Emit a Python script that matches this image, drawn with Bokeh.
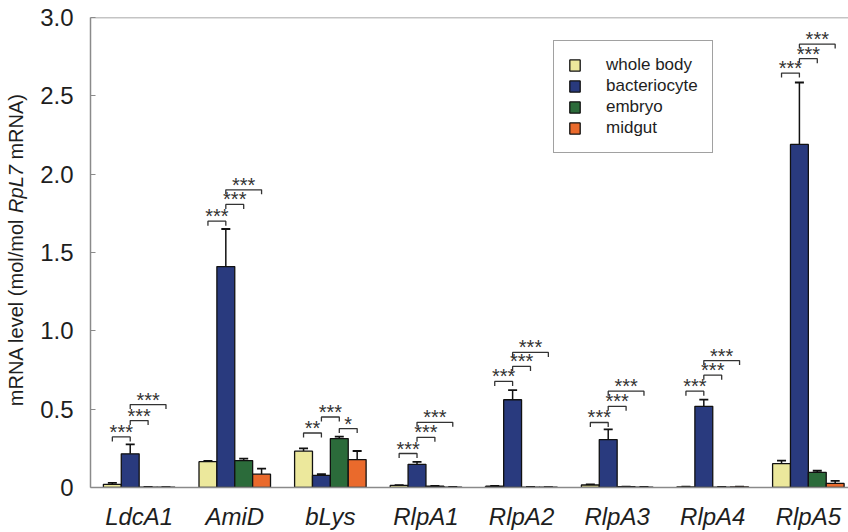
import numpy as np
from bokeh.plotting import figure
from bokeh.layouts import row
from bokeh.models import (ColumnDataSource, FixedTicker, Whisker, TeeHead,
                          Legend, LegendItem, Range1d, Span)
from bokeh.core.properties import value
from bokeh.embed import file_html
from bokeh.resources import INLINE

# ---------------- data ----------------
genes = ["LdcA1", "AmiD", "bLys", "RlpA1", "RlpA2", "RlpA3", "RlpA4", "RlpA5"]
tissues = ["whole body", "bacteriocyte", "embryo", "midgut"]

whole_body = [0.020, 0.165, 0.232, 0.013, 0.008, 0.016, 0.004, 0.152]
whole_body_err = [0.010, 0.004, 0.018, 0.002, 0.002, 0.003, 0.001, 0.020]
bacteriocyte = [0.215, 1.410, 0.077, 0.148, 0.560, 0.306, 0.518, 2.190]
bacteriocyte_err = [0.060, 0.240, 0.008, 0.015, 0.062, 0.065, 0.043, 0.395]
embryo = [0.003, 0.172, 0.312, 0.008, 0.003, 0.005, 0.003, 0.097]
embryo_err = [0.001, 0.012, 0.013, 0.002, 0.001, 0.001, 0.001, 0.010]
midgut = [0.002, 0.085, 0.178, 0.003, 0.002, 0.003, 0.004, 0.026]
midgut_err = [0.001, 0.035, 0.055, 0.001, 0.001, 0.001, 0.001, 0.016]

y_ticks = [0, 0.5, 1.0, 1.5, 2.0, 2.5, 3.0]
y_tick_labels = ["0", "0.5", "1.0", "1.5", "2.0", "2.5", "3.0"]

# significance brackets: gene index, tissue a, tissue b, bracket height, label
sig_gene = [0, 0, 0, 1, 1, 1, 2, 2, 2, 3, 3, 3, 4, 4, 4, 5, 5, 5, 6, 6, 6, 7, 7, 7]
sig_a = [0, 1, 1, 0, 1, 1, 0, 1, 2, 0, 1, 1, 0, 1, 1, 0, 1, 1, 0, 1, 1, 0, 1, 1]
sig_b = [1, 2, 3, 1, 2, 3, 1, 2, 3, 1, 2, 3, 1, 2, 3, 1, 2, 3, 1, 2, 3, 1, 2, 3]
sig_y = [0.323, 0.427, 0.529,
         1.700, 1.807, 1.900,
         0.348, 0.450, 0.376,
         0.217, 0.320, 0.416,
         0.677, 0.773, 0.862,
         0.415, 0.518, 0.615,
         0.615, 0.717, 0.810,
         2.645, 2.737, 2.830]
sig_text = ["***", "***", "***",
            "***", "***", "***",
            "**", "***", "*",
            "***", "***", "***",
            "***", "***", "***",
            "***", "***", "***",
            "***", "***", "***",
            "***", "***", "***"]

y_title_parts = ["mRNA level (mol/mol", "RpL7", "mRNA)"]

# ---------------- style ----------------
FONT = "Liberation Sans"
TXT = "#1e1e1e"
AXC = "#8a8a8a"
colors = ["#ECE89C", "#293A7E", "#2B6B3A", "#EA6A2C"]
bw = 0.187
px_per_y = 471 / 3.0
TW = 30  # width of the strip that holds the y-axis title
H = 532
TOP, BOTTOM = 17, 44

p = figure(width=848 - TW, height=H, title=None,
           x_range=Range1d(0.491, 8.42), y_range=Range1d(0, 3.0),
           output_backend="svg", toolbar_location=None,
           min_border_left=90 - TW, min_border_right=0,
           min_border_top=TOP, min_border_bottom=BOTTOM)
p.outline_line_color = None
p.xgrid.visible = False
p.ygrid.visible = False

centers = np.arange(1, len(genes) + 1, dtype=float)
series = [whole_body, bacteriocyte, embryo, midgut]
errors = [whole_body_err, bacteriocyte_err, embryo_err, midgut_err]

renderers = []
for j, (vals, errs) in enumerate(zip(series, errors)):
    xs = centers + (j - 1.5) * bw
    v = np.array(vals)
    src = ColumnDataSource(dict(x=xs, top=v, lower=v, upper=v + np.array(errs)))
    w = Whisker(base="x", lower="lower", upper="upper", source=src, dimension="height",
                line_color="#111111", line_width=1.5,
                upper_head=TeeHead(size=9, line_color="#111111", line_width=1.8),
                lower_head=None, level="underlay")
    p.add_layout(w)
    r = p.vbar(x="x", top="top", bottom=0, width=bw, source=src,
               fill_color=colors[j], line_color="#111111", line_width=1.3)
    renderers.append(r)

# significance brackets
tick_len = 4.5 / px_per_y
bx, by, tx, ty = [], [], [], []
for g, a, b, h in zip(sig_gene, sig_a, sig_b, sig_y):
    x1 = centers[g] + (a - 1.5) * bw
    x2 = centers[g] + (b - 1.5) * bw
    bx.append([x1, x1, x2, x2])
    by.append([h - tick_len, h, h, h - tick_len])
    tx.append((x1 + x2) / 2)
    ty.append(h + 5.0 / px_per_y)
p.multi_line(xs=bx, ys=by, line_color="#333333", line_width=1.3)
p.text(x=tx, y=ty, text=sig_text, text_align="center", text_baseline="middle",
       text_font=value(FONT), text_font_size="20px", text_color="#333333")

# top frame line
p.add_layout(Span(location=3.0, dimension="width", line_color=AXC, line_width=1.5))

# axes
yax = p.yaxis[0]
yax.ticker = FixedTicker(ticks=y_ticks)
yax.major_label_overrides = {float(t): l for t, l in zip(y_ticks, y_tick_labels)}
yax.minor_tick_line_color = None
yax.major_tick_in = 5
yax.major_tick_out = 0
yax.major_tick_line_color = AXC
yax.axis_line_color = AXC
yax.axis_line_width = 1.5
yax.major_label_text_font = FONT
yax.major_label_text_font_size = "24px"
yax.major_label_text_color = TXT
yax.major_label_standoff = 17

xax = p.xaxis[0]
xax.ticker = FixedTicker(ticks=list(centers))
xax.major_label_overrides = {float(c): gname for c, gname in zip(centers, genes)}
xax.minor_tick_line_color = None
xax.major_tick_line_color = None
xax.axis_line_color = AXC
xax.axis_line_width = 1.5
xax.major_label_text_font = FONT
xax.major_label_text_font_style = "italic"
xax.major_label_text_font_size = "24px"
xax.major_label_text_color = TXT
xax.major_label_standoff = 9

legend = Legend(items=[LegendItem(label=t, renderers=[r]) for t, r in zip(tissues, renderers)],
                location=(463, 334), orientation="vertical",
                label_text_font=FONT, label_text_font_size="17px", label_text_color=TXT,
                glyph_width=13, glyph_height=14, label_height=19, label_standoff=25,
                spacing=1, padding=14, margin=0,
                border_line_color="#444444", border_line_width=1.5,
                background_fill_color="white", background_fill_alpha=1.0)
p.add_layout(legend, "center")

# ---------------- y-axis title strip (mixed italic text) ----------------
# strip frame uses the same borders as the chart; y is measured in px from the page bottom
t = figure(width=TW, height=H, title=None, x_range=Range1d(0, TW),
           y_range=Range1d(BOTTOM, H - TOP),
           output_backend="svg", toolbar_location=None,
           min_border_left=0, min_border_right=0,
           min_border_top=TOP, min_border_bottom=BOTTOM)
t.axis.visible = False
t.grid.visible = False
t.outline_line_color = None
fs = 20
space = 0.278 * fs
em1, em2, em3 = 9.389, 2.39, 3.277
title_center = H - 250                      # page y of the title centre (from the bottom)
start = title_center - ((em1 + em2 + em3) * fs + 2 * space) / 2
mid_start = start + em1 * fs + space
mid_end = mid_start + em2 * fs
common = dict(angle=np.pi / 2, text_baseline="middle", text_font=value(FONT),
              text_font_size=f"{fs}px", text_color=TXT)
t.text(x=[15], y=[mid_start - space], text=[y_title_parts[0]], text_align="right",
       text_font_style="normal", **common)
t.text(x=[15], y=[(mid_start + mid_end) / 2], text=[y_title_parts[1]], text_align="center",
       text_font_style="italic", **common)
t.text(x=[15], y=[mid_end + space], text=[y_title_parts[2]], text_align="left",
       text_font_style="normal", **common)

layout = row(t, p, spacing=0)
open("out.html", "w").write(file_html(layout, INLINE))
